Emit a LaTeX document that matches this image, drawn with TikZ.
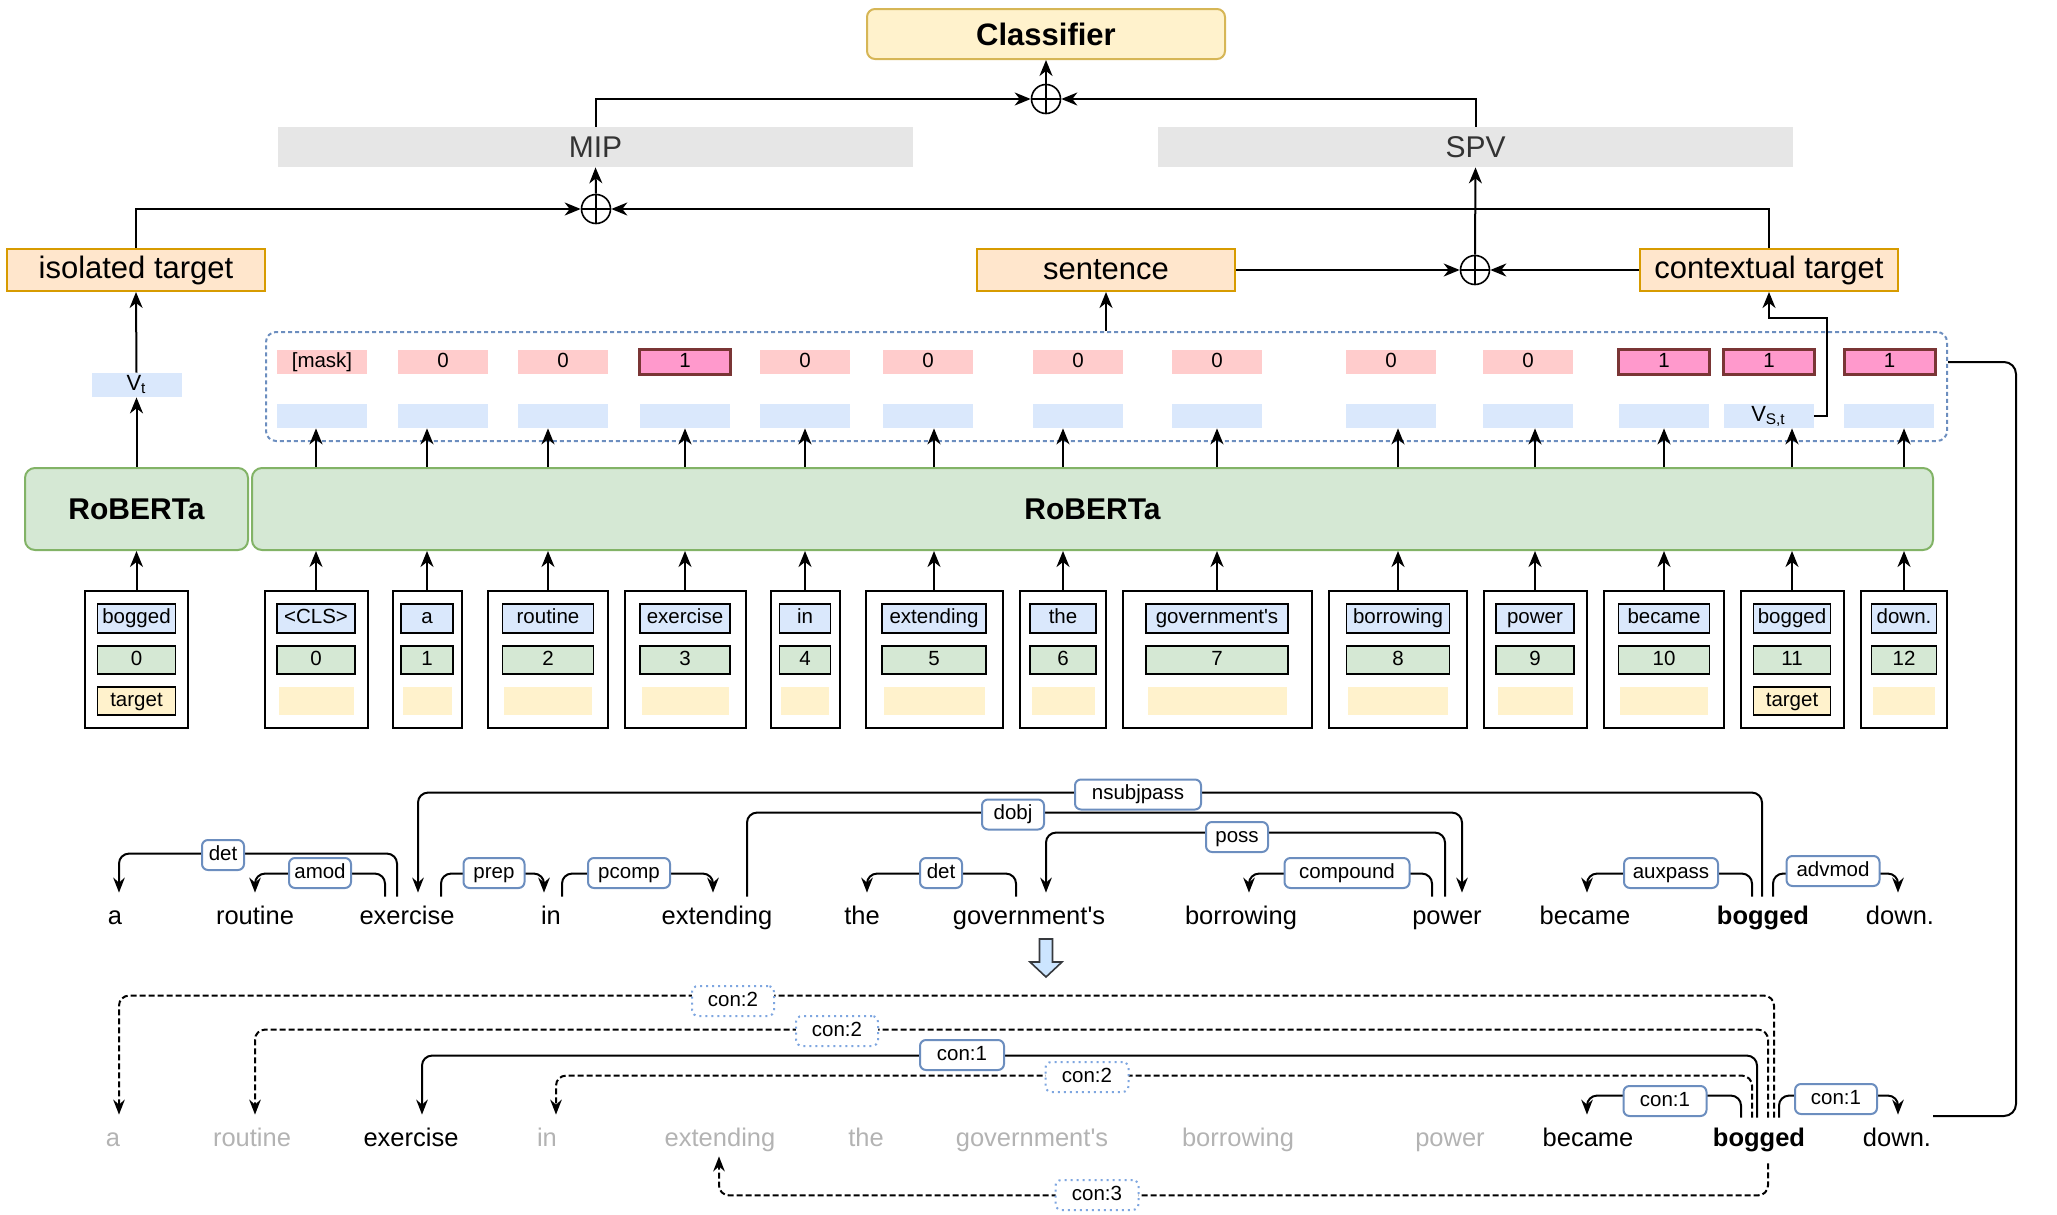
\documentclass[tikz,border=0pt]{standalone}
\usepackage{fontspec}
\setmainfont{Liberation Sans}
\usetikzlibrary{arrows.meta}
\definecolor{clsfill}{HTML}{FFF2CC}
\definecolor{clsline}{HTML}{D6B656}
\definecolor{orfill}{HTML}{FFE6CC}
\definecolor{orline}{HTML}{D79B00}
\definecolor{gryfill}{HTML}{E6E6E6}
\definecolor{grytext}{HTML}{333333}
\definecolor{grnfill}{HTML}{D5E8D4}
\definecolor{grnline}{HTML}{82B366}
\definecolor{pinkfill}{HTML}{FFCCCC}
\definecolor{hotfill}{HTML}{FF99CC}
\definecolor{hotline}{HTML}{7A3535}
\definecolor{blufill}{HTML}{DAE8FC}
\definecolor{bluline}{HTML}{6C8EBF}
\definecolor{dotline}{HTML}{7EA6E0}
\definecolor{fadetext}{HTML}{B3B3B3}
\definecolor{arrfill}{HTML}{CCE5FF}
\definecolor{arrline}{HTML}{36393D}
\newcommand{\fsSmall}{\fontsize{10.25}{12}\selectfont}
\newcommand{\fsWord}{\fontsize{12.75}{15}\selectfont}
\newcommand{\fsBig}{\fontsize{15.5}{18}\selectfont}
\newcommand{\fsMid}{\fontsize{15}{18}\selectfont}
\newcommand{\gov}{government\textquotesingle s}
\begin{document}
\begin{tikzpicture}[x=0.5pt,y=-0.5pt,
  arr/.style={line width=1pt,-{Stealth[length=8pt,width=6.5pt,inset=2.5pt]}},
  conline/.style={line width=1pt},
  arcline/.style={line width=1pt,rounded corners=5pt,-{Stealth[length=7.5pt,width=5.8pt,inset=2.5pt]}},
  dasharc/.style={arcline,dash pattern=on 3pt off 1.5pt},
  clsbox/.style={rectangle,rounded corners=4pt,draw=clsline,fill=clsfill,line width=1pt,minimum width=179pt,minimum height=25pt,inner sep=0pt,font=\fsBig\bfseries},
  graybox/.style={rectangle,fill=gryfill,minimum width=317.5pt,minimum height=20pt,inner sep=0pt,text=grytext,font=\fsMid},
  orbox/.style={rectangle,draw=orline,fill=orfill,line width=1pt,minimum width=129pt,minimum height=21pt,inner sep=0pt,font=\fsBig},
  sumnode/.style={circle,draw,line width=0.8pt,minimum size=14.5pt,inner sep=0pt,fill=white,
    path picture={\draw[line width=0.8pt] (path picture bounding box.north) -- (path picture bounding box.south) (path picture bounding box.west) -- (path picture bounding box.east);}},
  dbox/.style={rectangle,rounded corners=5pt,draw=bluline,dash pattern=on 2pt off 1.5pt,line width=1pt,minimum width=840.5pt,minimum height=54.5pt,inner sep=0pt},
  smalltxt/.style={inner sep=0pt,font=\fsSmall,text height=7.4pt,text depth=2pt},
  pinkbox/.style={rectangle,smalltxt,fill=pinkfill,minimum width=45pt,minimum height=12pt},
  hotbox/.style={rectangle,smalltxt,fill=hotfill,draw=hotline,line width=1.5pt,minimum width=45.5pt,minimum height=12.5pt},
  bluebox/.style={rectangle,smalltxt,fill=blufill,minimum width=45pt,minimum height=12pt},
  robbox/.style={rectangle,rounded corners=5pt,draw=grnline,fill=grnfill,line width=1pt,minimum height=41pt,inner sep=0pt,font=\fsMid\bfseries},
  tokout/.style={rectangle,draw,line width=1pt,fill=white,minimum height=68.5pt,inner sep=0pt},
  wbox/.style={rectangle,smalltxt,draw,line width=0.9pt,fill=blufill,minimum height=14.5pt},
  ibox/.style={wbox,fill=grnfill,minimum height=14pt},
  tbox/.style={wbox,fill=clsfill,minimum height=14pt},
  tempty/.style={rectangle,fill=clsfill,minimum height=14pt,inner sep=0pt},
  deptext/.style={anchor=base,inner sep=0pt,text height=9pt,text depth=2.5pt,font=\fsWord},
  lab/.style={rectangle,rounded corners=3pt,draw=bluline,fill=white,line width=1pt,minimum height=15pt,smalltxt},
  dlab/.style={lab,draw=dotline,dotted}
]
\useasboundingbox (0,0) rectangle (2057,1215);

% ---------- top ----------
\node[clsbox] (cls) at (1046,34) {Classifier};
\node[graybox] (mip) at (595.5,147) {MIP};
\node[graybox] (spv) at (1475.5,147) {SPV};
\node[sumnode] (p1) at (1046,99) {};
\node[sumnode] (p2) at (596,209) {};
\node[sumnode] (p3) at (1475,270) {};
\node[orbox] (iso) at (136,270) {isolated target};
\node[orbox] (sent) at (1106,270) {sentence};
\node[orbox] (ctx) at (1769,270) {contextual target};

\draw[arr] (mip.north) |- (p1.west);
\draw[arr] (spv.north) |- (p1.east);
\draw[arr] (p1.north) -- (cls.south);
\draw[arr] (p2.north) -- (mip.south);
\draw[arr] (iso.north) |- (p2.west);
\draw[arr] (ctx.north) |- (p2.east);
\draw[arr] (p3.north) -- (spv.south);
\draw[arr] (sent.east) -- (p3.west);
\draw[arr] (ctx.west) -- (p3.east);

% ---------- container ----------
\node[dbox] (dbox) at (1106.5,386.5) {};
\foreach \k/\cx/\v in {0/322/{[mask]},1/443/0,2/563/0,4/805/0,5/928/0,6/1078/0,7/1217/0,8/1391/0,9/1528/0}
  {\node[pinkbox] (m\k) at (\cx,362) {\v};}
\foreach \k/\cx in {3/685,10/1664,11/1769,12/1889.5}
  {\node[hotbox] (m\k) at (\cx,362) {1};}
\foreach \k/\cx in {0/322,1/443,2/563,3/685,4/805,5/928,6/1078,7/1217,8/1391,9/1528,10/1664,12/1889}
  {\node[bluebox] (b\k) at (\cx,416) {};}
\node[bluebox,font=\fontsize{11}{12}\selectfont] (b11) at (1768.5,416) {V\textsubscript{S,t}};
\node[bluebox,font=\fontsize{11}{12}\selectfont] (vt) at (136.5,385) {V\textsubscript{t}};

\draw[arr] (sent.south |- dbox.north) -- (sent.south);
\coordinate (vbend) at (1827,318);
\draw[arr] (b11.east) -| (vbend) -| (ctx.south);

% ---------- RoBERTa ----------
\node[robbox,minimum width=111.5pt] (rob1) at (136.5,509) {RoBERTa};
\node[robbox,minimum width=840.5pt] (rob2) at (1092.5,509) {RoBERTa};

% ---------- tokens ----------
\node[tokout,minimum width=51.5pt] (tki) at (136.5,659.5) {};
\node[wbox,minimum width=39pt] (wi) at (136.5,618.5) {bogged};
\node[ibox,minimum width=39pt] (ii) at (136.5,660) {0};
\node[tbox,minimum width=39pt] (ti) at (136.5,701) {target};
\draw[arr] (tki.north) -- (rob1.south);
\draw[arr] (rob1.north) -- (vt.south);
\draw[arr] (vt.north) -- (iso.south);

\foreach \k/\cx/\ow/\iw/\w in {0/316/103/78/{<CLS>},1/427/69/52/a,2/548/120/91/routine,3/685/121/90/exercise,4/805/69/51/in,5/934/137/104/extending,6/1063/86/66/the,7/1217/189/142/{\gov},8/1398/138/103/borrowing,9/1535/103/78/power,10/1664/120/91/became,11/1792/103/77/bogged,12/1904/86/65/{down.}}
{
  \node[tokout,minimum width=\ow*0.5pt] (tk\k) at (\cx,659.5) {};
  \node[wbox,minimum width=\iw*0.5pt] (w\k) at (\cx,618.5) {\w};
  \node[ibox,minimum width=\iw*0.5pt] (i\k) at (\cx,660) {\k};
  \draw[arr] (tk\k.north) -- (tk\k.north |- rob2.south);
  \draw[arr] (tk\k.north |- rob2.north) -- (tk\k.north |- b\k.south);
}
\foreach \k/\cx/\iw in {0/316/78,1/427/52,2/548/91,3/685/90,4/805/51,5/934/104,6/1063/66,7/1217/142,8/1398/103,9/1535/78,10/1664/91,12/1904/65}
  {\node[tempty,minimum width=(\iw-3)*0.5pt] (t\k) at (\cx,701) {};}
\node[tbox,minimum width=38.5pt] (t11) at (1792,701) {target};

% ---------- dependency parse (top) ----------
\foreach \k/\cx/\w in {0/115/a,1/255/routine,2/407/exercise,3/551/in,4/717/extending,5/862/the,6/1029/{\gov},7/1241/borrowing,8/1447/power,9/1585/became,11/1900/{down.}}
  {\node[deptext] (d\k) at (\cx,924) {\w};}
\node[deptext,font=\fsWord\bfseries] (d10) at (1763,924) {bogged};

\draw[arcline] ([xshift=-5pt,yshift=4.5pt]d2.north) -- ++(0,-43) -| ([xshift=2pt,yshift=6.5pt]d0.north);
\draw[arcline] ([xshift=-11pt,yshift=4.5pt]d2.north) -- ++(0,-23) -| ([yshift=6.5pt]d1.north);
\draw[arcline] ([xshift=17pt,yshift=4.5pt]d2.north) -- ++(0,-23) -| ([xshift=-3.5pt,yshift=6.5pt]d3.north);
\draw[arcline] ([xshift=5.5pt,yshift=4.5pt]d3.north) -- ++(0,-23) -| ([xshift=-2pt,yshift=6.5pt]d4.north);
\draw[arcline] ([xshift=-0.5pt,yshift=4.5pt]d10.north) -- ++(0,-104) -| ([xshift=5.5pt,yshift=6.5pt]d2.north);
\draw[arcline] ([xshift=15pt,yshift=4.5pt]d4.north) -- ++(0,-84) -| ([xshift=7.5pt,yshift=6.5pt]d8.north);
\draw[arcline] ([xshift=-6.5pt,yshift=4.5pt]d6.north) -- ++(0,-23) -| ([xshift=2.5pt,yshift=6.5pt]d5.north);
\draw[arcline] ([xshift=-1pt,yshift=4.5pt]d8.north) -- ++(0,-64) -| ([xshift=8.5pt,yshift=6.5pt]d6.north);
\draw[arcline] ([xshift=-7.5pt,yshift=4.5pt]d8.north) -- ++(0,-23) -| ([xshift=4pt,yshift=6.5pt]d7.north);
\draw[arcline] ([xshift=-5.5pt,yshift=4.5pt]d10.north) -- ++(0,-23) -| ([xshift=1pt,yshift=6.5pt]d9.north);
\draw[arcline] ([xshift=5pt,yshift=4.5pt]d10.north) -- ++(0,-23) -| ([xshift=-1pt,yshift=6.5pt]d11.north);

\node[lab,minimum width=21pt] (l1) at (223,855) {det};
\node[lab,minimum width=31pt] (l2) at (320,873) {amod};
\node[lab,minimum width=30.5pt] (l3) at (494,873) {prep};
\node[lab,minimum width=41pt] (l4) at (629,873) {pcomp};
\node[lab,minimum width=63pt] (l5) at (1138,794.5) {nsubjpass};
\node[lab,minimum width=31pt] (l6) at (1013,814.5) {dobj};
\node[lab,minimum width=21pt] (l7) at (941,873) {det};
\node[lab,minimum width=31pt] (l8) at (1237,837) {poss};
\node[lab,minimum width=62.5pt] (l9) at (1347,873) {compound};
\node[lab,minimum width=47pt] (l10) at (1671,873) {auxpass};
\node[lab,minimum width=46.5pt] (l11) at (1833,871) {advmod};

% block arrow
\draw[fill=arrfill,draw=arrline,line width=0.8pt] (1039.5,939) -- (1052.5,939) -- (1052.5,962) -- (1062,962) -- (1046,977) -- (1030,962) -- (1039.5,962) -- cycle;

% ---------- dependency parse (bottom) ----------
\foreach \k/\cx/\w in {0/113/a,1/252/routine,3/547/in,4/720/extending,5/866/the,6/1032/{\gov},7/1238/borrowing,8/1450/power}
  {\node[deptext,text=fadetext] (e\k) at (\cx,1146) {\w};}
\node[deptext] (e2) at (411,1146) {exercise};
\node[deptext] (e9) at (1588,1146) {became};
\node[deptext,font=\fsWord\bfseries] (e10) at (1759,1146) {bogged};
\node[deptext] (e11) at (1897,1146) {down.};

\draw[dasharc] ([xshift=7.5pt,yshift=5pt]e10.north) -- ++(0,-122) -| ([xshift=3pt,yshift=6.5pt]e0.north);
\draw[dasharc] ([xshift=4.5pt,yshift=5pt]e10.north) -- ++(0,-88) -| ([xshift=1.5pt,yshift=6.5pt]e1.north);
\draw[arcline] ([xshift=-1pt,yshift=5pt]e10.north) -- ++(0,-62) -| ([xshift=5.5pt,yshift=6.5pt]e2.north);
\draw[dasharc] ([xshift=-3.5pt,yshift=5pt]e10.north) -- ++(0,-42) -| ([xshift=4.5pt,yshift=6.5pt]e3.north);
\draw[arcline] ([xshift=-9pt,yshift=5pt]e10.north) -- ++(0,-22) -| ([xshift=-0.5pt,yshift=6.5pt]e9.north);
\draw[arcline] ([xshift=10pt,yshift=5pt]e10.north) -- ++(0,-22) -| ([xshift=0.5pt,yshift=6.5pt]e11.north);
\draw[dasharc] ([xshift=4.5pt,yshift=-6pt]e10.south) -- ++(0,32) -| ([xshift=-0.5pt,yshift=-2.5pt]e4.south);

\node[dlab,minimum width=41pt] (c1) at (733,1001) {con:2};
\node[dlab,minimum width=41pt] (c2) at (837,1031) {con:2};
\node[lab,minimum width=42pt] (c3) at (962,1055) {con:1};
\node[dlab,minimum width=41.5pt] (c4) at (1087,1077) {con:2};
\node[lab,minimum width=41.5pt] (c5) at (1665,1101) {con:1};
\node[lab,minimum width=41pt] (c6) at (1836,1099) {con:1};
\node[dlab,minimum width=41.5pt] (c7) at (1097,1195) {con:3};

% ---------- right connector ----------
\coordinate (rend) at (1933,1116);
\draw[conline,rounded corners=6pt] (dbox.east |- m12.east) -| (2016,1116) -- (rend);
\end{tikzpicture}
\end{document}
